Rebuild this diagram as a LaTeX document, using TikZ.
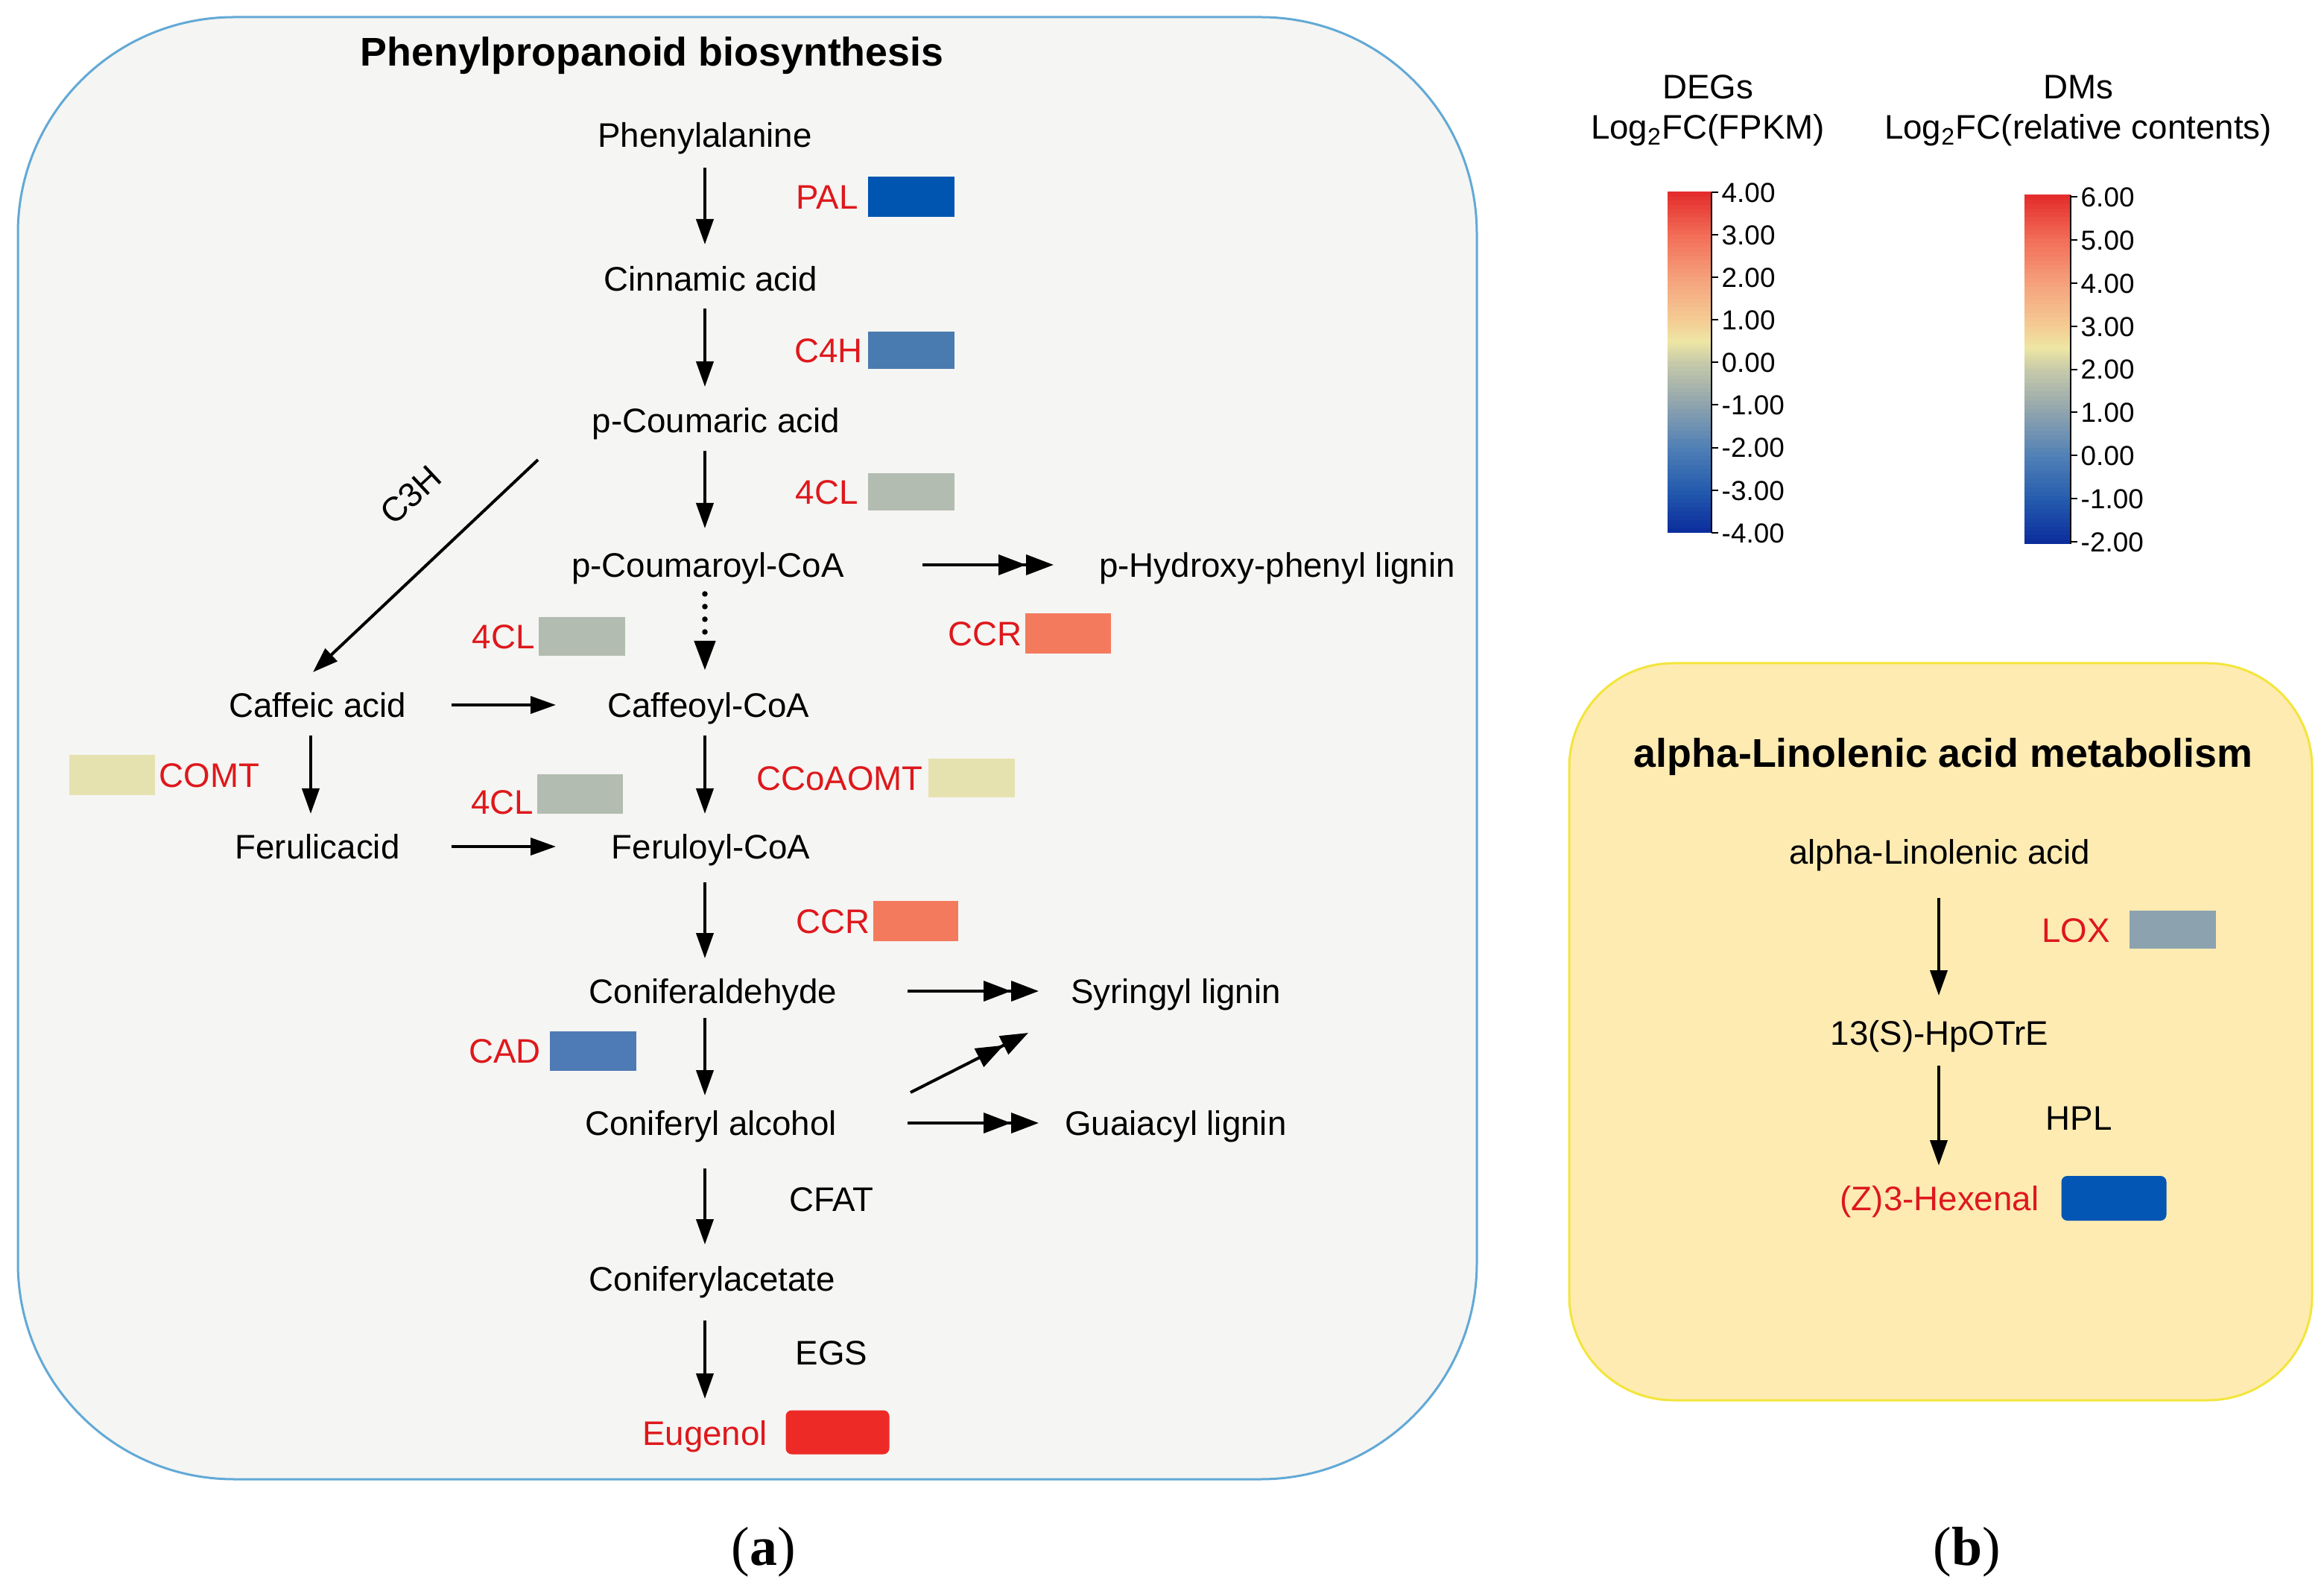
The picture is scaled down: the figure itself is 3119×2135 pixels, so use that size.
\documentclass[tikz,border=0pt]{standalone}
\usepackage{fontspec}
\setmainfont{Liberation Sans}
\newfontfamily\capfont{Liberation Serif}
\usetikzlibrary{arrows.meta,positioning}
\definecolor{redtxt}{RGB}{222,24,28}
\definecolor{panelL}{RGB}{245,245,243}
\definecolor{borderL}{RGB}{98,169,214}
\definecolor{panelR}{RGB}{254,235,178}
\definecolor{borderR}{RGB}{243,229,59}
\definecolor{cPAL}{RGB}{0,85,176}
\definecolor{cCfH}{RGB}{74,123,176}
\definecolor{cCL}{RGB}{179,188,176}
\definecolor{cCCR}{RGB}{244,122,94}
\definecolor{cOMT}{RGB}{230,226,176}
\definecolor{cCAD}{RGB}{78,123,181}
\definecolor{cEUG}{RGB}{238,42,38}
\definecolor{cLOX}{RGB}{140,163,175}
\definecolor{cHEX}{RGB}{3,86,179}
\definecolor{g0}{RGB}{11,44,156}
\definecolor{g1}{RGB}{36,91,174}
\definecolor{g2}{RGB}{80,128,182}
\definecolor{g3}{RGB}{142,163,174}
\definecolor{g4}{RGB}{200,203,169}
\definecolor{g45}{RGB}{238,230,164}
\definecolor{g5}{RGB}{244,203,147}
\definecolor{g6}{RGB}{245,160,123}
\definecolor{g7}{RGB}{242,108,86}
\definecolor{g8}{RGB}{227,43,43}
\tikzset{
  met/.style={inner sep=0pt, font=\fontsize{13}{15}\selectfont, text height=9.2pt, text depth=0pt},
  metR/.style={inner sep=0pt, font=\fontsize{13}{15}\selectfont, text height=9.3pt, text depth=0pt},
  ttl/.style={inner sep=0pt, font=\bfseries\fontsize{15.3}{17}\selectfont, text height=11pt, text depth=0pt},
  enz/.style={met, text=redtxt},
  enzR/.style={metR, text=redtxt},
  ebox/.style={inner sep=0pt, minimum width=11.6mm, minimum height=5.2mm},
  arr/.style={line width=0.4mm, -{Triangle[length=3.4mm,width=2.3mm]}},
  darr/.style={line width=0.4mm, -{Triangle[length=3.7mm,width=2.7mm]Triangle[length=3.7mm,width=2.7mm]}},
  dotarr/.style={line width=0.75mm, line cap=round, dash pattern=on 0pt off 1.7mm, -{Triangle[length=4mm,width=2.7mm]}},
  tickl/.style={inner sep=0pt, font=\fontsize{10.5}{12}\selectfont, text height=7.6pt, text depth=0pt, anchor=west},
  legt/.style={inner sep=0pt, font=\fontsize{13}{15}\selectfont, text height=9.3pt, text depth=0pt},
  capf/.style={inner sep=0pt, font=\capfont\fontsize{21}{24}\selectfont},
  tick/.style={line width=0.2mm}
}
\newcommand\colbar[4]{% x1, x2, ybottom, height
  \foreach \fa/\fb/\ca/\cb in {0/0.125/g0/g1, 0.125/0.25/g1/g2, 0.25/0.375/g2/g3, 0.375/0.5/g3/g4, 0.5/0.5625/g4/g45, 0.5625/0.625/g45/g5, 0.625/0.75/g5/g6, 0.75/0.875/g6/g7, 0.875/1/g7/g8}{
    \foreach \k in {0,...,9}{
      \pgfmathsetmacro\ya{#3-#4*(\fa+(\fb-\fa)*\k/10)}
      \pgfmathsetmacro\yb{#3-#4*(\fa+(\fb-\fa)*(\k+1)/10)-0.8}
      \pgfmathtruncatemacro\pp{\k*10+5}
      \fill[\cb!\pp!\ca] (#1,\ya) rectangle (#2,\yb);
    }
  }
}
\begin{document}
\begin{tikzpicture}[x=0.1mm,y=-0.1mm]
\useasboundingbox (0,0) rectangle (3119,2135);

% ---------- panels ----------
\draw[rounded corners=29mm, fill=panelL, draw=borderL, line width=0.3mm] (24,23) rectangle (1982,1985);
\draw[rounded corners=14mm, fill=panelR, draw=borderR, line width=0.3mm] (2106,890) rectangle (3103,1879);

\node[ttl] (ttl1) at (875,69) {Phenylpropanoid biosynthesis};
\node[ttl] (ttl2) at (2608,1010) {alpha-Linolenic acid metabolism};

% ---------- column coordinates ----------
\coordinate (colx) at (946,0);
\coordinate (col2) at (417,0);
\coordinate (colr) at (2602,0);

% ---------- metabolites ----------
\node[met] (phe) at (946,181) {Phenylalanine};
\node[met] (cin) at (954,374) {Cinnamic acid};
\node[met] (pcou) at (961,564) {p-Coumaric acid};
\node[met] (pcoa) at (950,758) {p-Coumaroyl-CoA};
\node[met] (phl) at (1714,758) {p-Hydroxy-phenyl lignin};
\node[met] (caff) at (426,946) {Caffeic acid};
\node[met] (caffcoa) at (951,946) {Caffeoyl-CoA};
\node[met] (ferac) at (426,1136) {Ferulicacid};
\node[met] (fercoa) at (954,1136) {Feruloyl-CoA};
\node[met] (conald) at (957,1330) {Coniferaldehyde};
\node[met] (syr) at (1578,1330) {Syringyl lignin};
\node[met] (conalc) at (954,1507) {Coniferyl alcohol};
\node[met] (gua) at (1578,1507) {Guaiacyl lignin};
\node[met] (conac) at (956,1716) {Coniferylacetate};
\node[enz] (eug) at (946,1923) {Eugenol};
\node[met] (cfat) at (1116,1609) {CFAT};
\node[met] (egs) at (1116,1815) {EGS};

% ---------- enzyme boxes ----------
\node[ebox, fill=cPAL, minimum height=5.4mm] (pal) at (1223,264) {};
\node[enz, left=1.2mm of pal] (palt) {PAL};
\node[ebox, fill=cCfH, minimum height=5mm] (c4h) at (1223,470) {};
\node[enz, left=0.6mm of c4h] (c4ht) {C4H};
\node[ebox, fill=cCL, minimum height=5mm] (cla) at (1223,660) {};
\node[enz, left=1.2mm of cla] (clat) {4CL};
\node[ebox, fill=cCCR, minimum height=5.4mm, minimum width=11.5mm] (ccra) at (1433,850) {};
\node[enz, left=0.3mm of ccra] (ccrat) {CCR};
\node[ebox, fill=cCL] (clb) at (781,854) {};
\node[enz, left=0.4mm of clb] (clbt) {4CL};
\node[ebox, fill=cOMT, minimum height=5.4mm, minimum width=11.5mm] (comt) at (150,1040) {};
\node[enz, right=0.5mm of comt] (comtt) {COMT};
\node[ebox, fill=cOMT] (ccoa) at (1304,1044) {};
\node[enz, left=0.6mm of ccoa] (ccoat) {CCoAOMT};
\node[ebox, fill=cCL, minimum height=5.3mm, minimum width=11.5mm] (clc) at (778,1066) {};
\node[enz, anchor=south east] (clct) at ([xshift=-0.3mm]clc.south west) {4CL};
\node[ebox, fill=cCCR, minimum height=5.4mm, minimum width=11.4mm] (ccrb) at (1229,1236) {};
\node[enz, left=0.3mm of ccrb] (ccrbt) {CCR};
\node[ebox, fill=cCAD, minimum height=5.3mm] (cad) at (796,1410) {};
\node[enz, left=1.1mm of cad] (cadt) {CAD};
\node[ebox, fill=cEUG, minimum width=13.9mm, minimum height=5.9mm, rounded corners=0.8mm] (eugb) at (1124,1922) {};

% ---------- arrows, left panel ----------
\draw[arr, shorten <=4.4mm, shorten >=4.6mm] (phe -| colx) -- (cin -| colx);
\draw[arr, shorten <=4mm, shorten >=4.5mm] (cin -| colx) -- (pcou -| colx);
\draw[arr, shorten <=4.1mm, shorten >=4.9mm] (pcou -| colx) -- (pcoa -| colx);
\draw[dotarr, shorten <=3.9mm, shorten >=4.6mm] (pcoa -| colx) -- (caffcoa -| colx);
\draw[arr, shorten <=4.1mm, shorten >=4.4mm] (caffcoa -| colx) -- (fercoa -| colx);
\draw[arr, shorten <=4.8mm, shorten >=4.4mm] (fercoa -| colx) -- (conald -| colx);
\draw[arr, shorten <=3.6mm, shorten >=3.7mm] (conald -| colx) -- (conalc -| colx);
\draw[arr, shorten <=6.1mm, shorten >=4.6mm] (conalc -| colx) -- (conac -| colx);
\draw[arr, shorten <=5.6mm, shorten >=4.6mm] (conac -| colx) -- (eug -| colx);

\draw[arr, shorten <=4.1mm, shorten >=4.4mm] (caff -| col2) -- (ferac -| col2);
\draw[arr, shorten <=18mm, shorten >=20.5mm] (caff.center) -- (caffcoa.center);
\draw[arr, shorten <=18mm, shorten >=20.8mm] (ferac.center) -- (fercoa.center);

\coordinate (c3s) at (722,617);
\coordinate (c3e) at (420,902);
\draw[arr] (c3s) -- (c3e);
\node[met, rotate=43] (c3h) at (551,664) {C3H};

\draw[darr, shorten <=28.8mm, shorten >=30mm] (pcoa.center) -- (phl.center);
\draw[darr, shorten <=26.1mm, shorten >=18.4mm] (conald.center) -- (syr.center);
\draw[darr, shorten <=26.4mm, shorten >=18.4mm] (conalc.center) -- (gua.center);
\coordinate (d1s) at (1222,1466);
\coordinate (d1e) at (1380,1386);
\draw[darr] (d1s) -- (d1e);

% ---------- right panel ----------
\node[metR] (ala) at (2603,1143) {alpha-Linolenic acid};
\node[metR] (hpo) at (2603,1386) {13(S)-HpOTrE};
\node[enzR] (hex) at (2603,1608) {(Z)3-Hexenal};
\node[metR] (hpl) at (2790,1500) {HPL};
\node[ebox, fill=cLOX, minimum height=5.1mm] (lox) at (2916,1248) {};
\node[enzR, left=2.5mm of lox] (loxt) {LOX};
\node[ebox, fill=cHEX, minimum width=14.1mm, minimum height=6mm, rounded corners=0.8mm] (hexb) at (2837,1608) {};
\draw[arr, shorten <=6.2mm, shorten >=5mm] (ala -| colr) -- (hpo -| colr);
\draw[arr, shorten <=4.4mm, shorten >=4.4mm] (hpo -| colr) -- (hex -| colr);

% ---------- legends ----------
\node[legt] (degs) at (2292,116) {DEGs};
\node[legt] (degl) at (2292,170) {Log\textsubscript{2}FC(FPKM)};
\node[legt] (dms) at (2789,116) {DMs};
\node[legt] (dml) at (2789,170) {Log\textsubscript{2}FC(relative contents)};

\colbar{2238}{2297}{715}{457}
\draw[tick] (2297,258) -- (2297,715);
\foreach \lab [count=\i from 0] in {4.00,3.00,2.00,1.00,0.00,-1.00,-2.00,-3.00,-4.00}{
  \draw[tick] (2297,{258+\i*57.1}) -- ++(9,0);
  \node[tickl] (ta\i) at (2310,{258+\i*57.1}) {\lab};
}
\colbar{2717}{2779}{730}{468}
\draw[tick] (2779,262) -- (2779,730);
\foreach \lab [count=\i from 0] in {6.00,5.00,4.00,3.00,2.00,1.00,0.00,-1.00,-2.00}{
  \draw[tick] (2779,{264+\i*57.9}) -- ++(9,0);
  \node[tickl] (tb\i) at (2792,{264+\i*57.9}) {\lab};
}

% ---------- captions ----------
\node[capf] (capa) at (1025,2083) {(\textbf{a})};
\node[capf] (capb) at (2640,2083) {(\textbf{b})};
\end{tikzpicture}
\end{document}
